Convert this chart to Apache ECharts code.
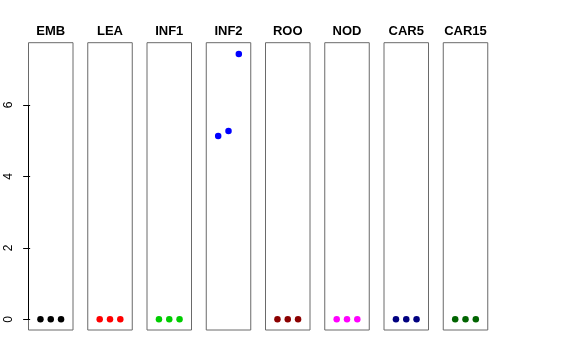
<!DOCTYPE html>
<html><head><meta charset="utf-8">
<script src="https://cdn.jsdelivr.net/npm/echarts@6/dist/echarts.min.js"></script>
<style>html,body{margin:0;padding:0;background:#fff}#c{width:576px;height:360px}</style>
</head><body><div id="c"></div>
<script>
const categories = ['EMB','LEA','INF1','INF2','ROO','NOD','CAR5','CAR15'];
const xPositions = [1, 2, 3];
const EMB = [0, 0, 0];
const LEA = [0, 0, 0];
const INF1 = [0, 0, 0];
const INF2 = [5.13, 5.27, 7.43];
const ROO = [0, 0, 0];
const NOD = [0, 0, 0];
const CAR5 = [0, 0, 0];
const CAR15 = [0, 0, 0];
const seriesValues = [EMB, LEA, INF1, INF2, ROO, NOD, CAR5, CAR15];
const colors = ['#000000','#ff0000','#00cd00','#0000ff','#8b0000','#ff00ff','#000080','#006400'];
const yTicks = [0, 2, 4, 6];

const xMin = -0.16, xMax = 4.16;
const yMin = -0.298, yMax = 7.745;
const panelLeft0 = 28.5, panelStep = 59.25, panelW = 44.5, panelTop = 42.7, panelH = 287.3;

const grids = [], xAxes = [], yAxes = [], series = [], graphics = [];
categories.forEach((cat, i) => {
  const l = panelLeft0 + panelStep * i;
  grids.push({left: l, top: panelTop, width: panelW, height: panelH, show: true, borderColor: '#6a6a6a', borderWidth: 1, backgroundColor: 'transparent'});
  xAxes.push({gridIndex: i, type: 'value', min: xMin, max: xMax, show: false});
  yAxes.push({
    gridIndex: i, type: 'value', min: yMin, max: yMax,
    show: i === 0,
    axisLine: {show: false},
    axisTick: {show: true, length: 7, lineStyle: {color: '#000'}, customValues: yTicks},
    axisLabel: {show: true, rotate: 90, margin: 14, fontSize: 12, color: '#000', fontFamily: 'Liberation Sans, Arial', customValues: yTicks},
    splitLine: {show: false}
  });
  graphics.push({type: 'text', x: l + panelW / 2, y: 31, silent: true,
    style: {text: cat, align: 'center', verticalAlign: 'middle', fill: '#000',
      font: 'bold 13px "Liberation Sans", Arial, sans-serif'}});
  series.push({
    type: 'scatter', xAxisIndex: i, yAxisIndex: i, symbol: 'circle', symbolSize: 6.5,
    itemStyle: {color: colors[i], opacity: 1}, silent: true,
    data: xPositions.map((x, k) => [x, seriesValues[i][k]])
  });
});
// y axis line spanning from first to last tick, like R's axis()
series.push({
  type: 'line', xAxisIndex: 0, yAxisIndex: 0, symbol: 'none', silent: true,
  lineStyle: {color: '#000', width: 1}, clip: false,
  data: [[xMin, yTicks[0]], [xMin, yTicks[yTicks.length - 1]]]
});

const chart = echarts.init(document.getElementById('c'), null, {renderer: 'canvas'});
chart.setOption({animation: false, graphic: graphics, grid: grids, xAxis: xAxes, yAxis: yAxes, series: series});
</script></body></html>
